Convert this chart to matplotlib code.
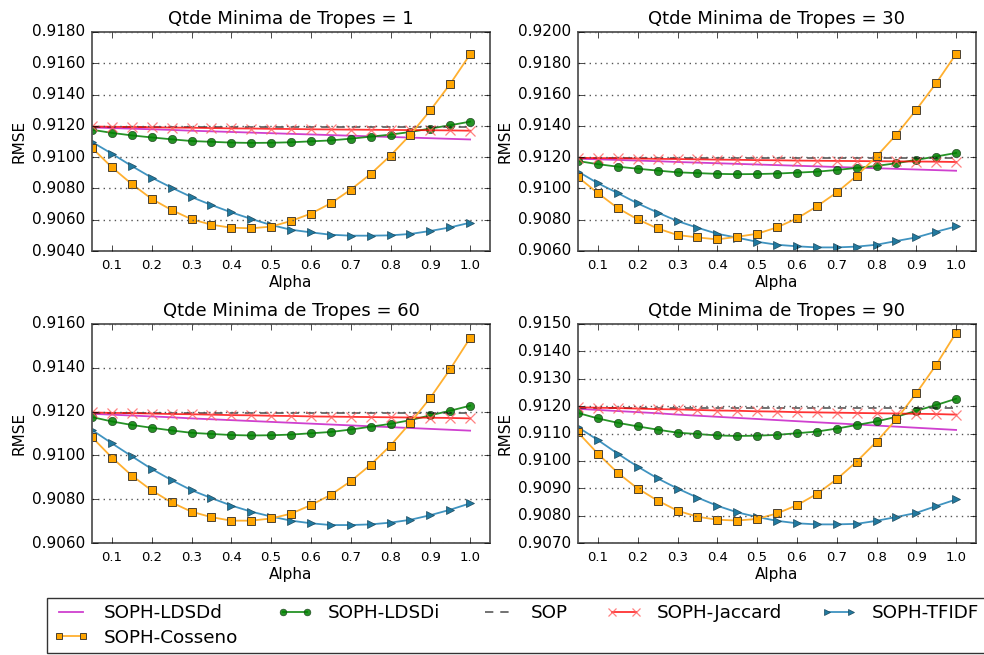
import matplotlib
matplotlib.use("Agg")
import matplotlib.pyplot as plt
from matplotlib.ticker import FormatStrFormatter, MultipleLocator

plt.style.use("classic")
plt.rcParams["font.family"] = ["DejaVu Sans"]

alpha = [0.05, 0.10, 0.15, 0.20, 0.25, 0.30, 0.35, 0.40, 0.45, 0.50,
         0.55, 0.60, 0.65, 0.70, 0.75, 0.80, 0.85, 0.90, 0.95, 1.00]

# Series that do not depend on the minimum number of tropes
ldsdd = [0.91190, 0.91186, 0.91182, 0.91178, 0.91174, 0.91169, 0.91165, 0.91161, 0.91157, 0.91153,
         0.91149, 0.91145, 0.91141, 0.91137, 0.91133, 0.91129, 0.91125, 0.91121, 0.91117, 0.91113]
ldsdi = [0.91175, 0.91155, 0.91139, 0.91126, 0.91114, 0.91103, 0.91098, 0.91093, 0.91091, 0.91092,
         0.91095, 0.91101, 0.91107, 0.91118, 0.91131, 0.91144, 0.91161, 0.91183, 0.91204, 0.91227]
sop = [0.91193, 0.91193, 0.91193, 0.91193, 0.91193, 0.91193, 0.91193, 0.91193, 0.91193, 0.91193,
       0.91193, 0.91193, 0.91193, 0.91193, 0.91193, 0.91193, 0.91193, 0.91193, 0.91193, 0.91193]
jaccard = [0.91196, 0.91194, 0.91193, 0.91191, 0.91189, 0.91188, 0.91186, 0.91184, 0.91183, 0.91181,
           0.91180, 0.91178, 0.91177, 0.91176, 0.91175, 0.91174, 0.91173, 0.91172, 0.91171, 0.91169]

# TF-IDF and cosine variants per minimum trope count
tfidf_1 = [0.91097, 0.91022, 0.90943, 0.90869, 0.90805, 0.90745, 0.90694, 0.90647, 0.90605, 0.90566,
           0.90536, 0.90519, 0.90504, 0.90498, 0.90498, 0.90500, 0.90509, 0.90528, 0.90551, 0.90581]
cos_1 = [0.91059, 0.90935, 0.90828, 0.90733, 0.90662, 0.90603, 0.90568, 0.90549, 0.90545, 0.90556,
         0.90592, 0.90639, 0.90705, 0.90792, 0.90892, 0.91010, 0.91144, 0.91299, 0.91468, 0.91657]

tfidf_30 = [0.91108, 0.91033, 0.90970, 0.90904, 0.90846, 0.90791, 0.90749, 0.90710, 0.90685, 0.90659,
            0.90640, 0.90630, 0.90623, 0.90623, 0.90628, 0.90640, 0.90664, 0.90687, 0.90723, 0.90757]
cos_30 = [0.91072, 0.90970, 0.90874, 0.90802, 0.90744, 0.90702, 0.90687, 0.90674, 0.90691, 0.90710,
          0.90751, 0.90808, 0.90885, 0.90974, 0.91080, 0.91205, 0.91344, 0.91503, 0.91673, 0.91860]

tfidf_60 = [0.91116, 0.91055, 0.90996, 0.90938, 0.90887, 0.90841, 0.90805, 0.90771, 0.90743, 0.90721,
            0.90702, 0.90690, 0.90682, 0.90682, 0.90685, 0.90693, 0.90706, 0.90727, 0.90752, 0.90781]
cos_60 = [0.91083, 0.90990, 0.90908, 0.90840, 0.90785, 0.90743, 0.90718, 0.90702, 0.90702, 0.90712,
          0.90734, 0.90773, 0.90820, 0.90882, 0.90957, 0.91045, 0.91149, 0.91263, 0.91394, 0.91536]

tfidf_90 = [0.91123, 0.91076, 0.91026, 0.90979, 0.90936, 0.90899, 0.90866, 0.90836, 0.90812, 0.90795,
            0.90781, 0.90772, 0.90768, 0.90768, 0.90770, 0.90781, 0.90795, 0.90810, 0.90835, 0.90859]
cos_90 = [0.91104, 0.91026, 0.90956, 0.90899, 0.90855, 0.90818, 0.90796, 0.90785, 0.90782, 0.90788,
          0.90808, 0.90838, 0.90879, 0.90933, 0.90997, 0.91070, 0.91152, 0.91247, 0.91351, 0.91468]

min_tropes = [1, 30, 60, 90]
tfidf_series = [tfidf_1, tfidf_30, tfidf_60, tfidf_90]
cos_series = [cos_1, cos_30, cos_60, cos_90]
y_limits = [(0.9040, 0.9180), (0.9060, 0.9200), (0.9060, 0.9160), (0.9070, 0.9150)]
y_steps = [0.0020, 0.0020, 0.0020, 0.0010]
x_ticks = [0.1, 0.2, 0.3, 0.4, 0.5, 0.6, 0.7, 0.8, 0.9, 1.0]

W, H = 984, 655
fig = plt.figure(figsize=(W / 100, H / 100), dpi=100, facecolor="white")

# axes boxes in pixels: left, top, right, bottom
boxes = [(92, 32, 490, 251), (578, 32, 976, 251),
         (92, 324, 490, 543), (578, 324, 976, 543)]

handles = None
for i, (l, t, r, b) in enumerate(boxes):
    ax = fig.add_axes([l / W, 1 - b / H, (r - l) / W, (b - t) / H])
    ax.set_facecolor("white")
    h1, = ax.plot(alpha, ldsdd, color="m", lw=1.3, alpha=0.75, label="SOPH-LDSDd")
    h2, = ax.plot(alpha, ldsdi, color="green", lw=1.3, alpha=0.85, marker="o", ms=6,
                  mfc="green", mec="#1a3a1a", mew=0.5, label="SOPH-LDSDi")
    h3, = ax.plot(alpha, sop, color="k", ls="--", lw=1.1, alpha=0.7, dashes=(6, 5), label="SOP")
    h4, = ax.plot(alpha, jaccard, color="red", lw=1.3, alpha=0.8, marker="x", ms=6.5,
                  mec="#ff6060", mew=0.9, label="SOPH-Jaccard")
    h5, = ax.plot(alpha, tfidf_series[i], color="#3f93c0", lw=1.3, marker=">", ms=6,
                  mfc="#21799f", mec="#1c4a5f", mew=0.5, label="SOPH-TFIDF")
    h6, = ax.plot(alpha, cos_series[i], color="#ffb030", lw=1.3, marker="s", ms=6,
                  mfc="#ffa500", mec="#4a4030", mew=0.7, label="SOPH-Cosseno")
    handles = [h1, h2, h3, h4, h5, h6]

    ax.set_xlim(0.05, 1.05)
    ax.set_ylim(*y_limits[i])
    ax.set_xticks(x_ticks)
    ax.xaxis.set_major_formatter(FormatStrFormatter("%.1f"))
    ax.yaxis.set_major_locator(MultipleLocator(y_steps[i]))
    ax.yaxis.set_major_formatter(FormatStrFormatter("%.4f"))
    ax.tick_params(axis="x", labelsize=9.5, direction="in", top=True, length=4, pad=6)
    ax.tick_params(axis="y", labelsize=11, direction="in", right=True, length=4, pad=5)
    ax.yaxis.grid(True, color="#555555", ls=":", lw=1.0)
    ax.xaxis.grid(False)
    for s in ax.spines.values():
        s.set_color("#555555")
        s.set_linewidth(1.3)
    ax.set_xlabel("Alpha", fontsize=11, labelpad=2)
    ax.set_ylabel("RMSE", fontsize=11, labelpad=4)
    ax.set_title("Qtde Minima de Tropes = %d" % min_tropes[i], fontsize=13, pad=6)

# legend filled row by row: the first column holds LDSDd and Cosseno
h1, h2, h3, h4, h5, h6 = handles
leg_order = [h1, h6, h2, h3, h4, h5]
fig.legend(handles=leg_order, labels=[h.get_label() for h in leg_order],
           loc="upper left", bbox_to_anchor=(47 / W, 1 - 598 / H), borderaxespad=0,
           ncol=5, fontsize=13.2, numpoints=2, frameon=True, fancybox=False,
           handlelength=1.9, handletextpad=0.85, columnspacing=2.15, markerscale=0.8,
           borderpad=0.35, labelspacing=0.35, edgecolor="#333333")

fig.savefig("out.png", dpi=100, facecolor="white")
